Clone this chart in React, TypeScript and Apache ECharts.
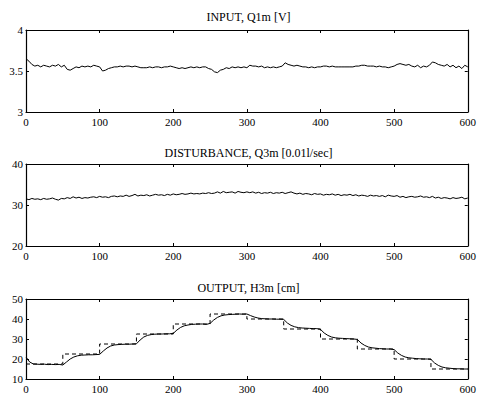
import React, { useEffect, useRef } from "react";
import * as echarts from "echarts";

const titles = ["INPUT, Q1m [V]", "DISTURBANCE, Q3m [0.01l/sec]", "OUTPUT, H3m [cm]"];
const xTicks = { min: 0, max: 600, interval: 100 };

// INPUT Q1m, sampled every 4 s from 0 to 600
const inputValues = [
  3.65, 3.62, 3.58, 3.56, 3.57, 3.55, 3.57, 3.56, 3.55, 3.57, 3.56, 3.58, 3.55, 3.57, 3.52, 3.51,
  3.53, 3.55, 3.54, 3.56, 3.55, 3.56, 3.55, 3.57, 3.56, 3.55, 3.5, 3.51, 3.53, 3.54, 3.55,
  3.55, 3.56, 3.55, 3.56, 3.56, 3.55, 3.56, 3.55, 3.54, 3.54, 3.54, 3.55, 3.54, 3.55, 3.55,
  3.54, 3.55, 3.55, 3.56, 3.55, 3.54, 3.53, 3.54, 3.53, 3.54, 3.55, 3.54, 3.55, 3.54, 3.55,
  3.55, 3.53, 3.52, 3.49, 3.48, 3.51, 3.52, 3.54, 3.53, 3.55, 3.54, 3.55, 3.54, 3.55, 3.54,
  3.57, 3.56, 3.56, 3.55, 3.56, 3.54, 3.55, 3.54, 3.55, 3.54, 3.55, 3.56, 3.6, 3.58, 3.57,
  3.56, 3.57, 3.56, 3.55, 3.55, 3.54, 3.55, 3.54, 3.55, 3.55, 3.56, 3.56, 3.55, 3.56, 3.55,
  3.55, 3.55, 3.55, 3.55, 3.55, 3.55, 3.56, 3.56, 3.57, 3.57, 3.56, 3.56, 3.56, 3.55, 3.56,
  3.55, 3.55, 3.54, 3.55, 3.56, 3.58, 3.59, 3.58, 3.57, 3.58, 3.56, 3.55, 3.57, 3.54, 3.56,
  3.55, 3.57, 3.61, 3.6, 3.58, 3.57, 3.56, 3.58, 3.55, 3.57, 3.54, 3.56, 3.53, 3.57, 3.55,
];

// DISTURBANCE Q3m, sampled every 4 s from 0 to 600
const disturbanceValues = [
  31.5, 31.3, 31.6, 31.4, 31.5, 31.3, 31.6, 31.4, 31.5, 31.7, 31.4, 31.2, 31.6, 31.5, 31.8, 31.6,
  32.0, 31.7, 31.9, 31.6, 31.8, 31.7, 31.9, 32.0, 31.8, 32.1, 31.9, 32.0, 31.8, 32.1, 32.2,
  32.0, 32.2, 32.1, 32.4, 32.1, 32.3, 32.6, 32.2, 32.4, 32.3, 32.5, 32.2, 32.4, 32.6, 32.4,
  32.5, 32.3, 32.6, 32.4, 32.7, 32.5, 32.6, 32.8, 32.6, 32.7, 32.9, 32.7, 32.8, 32.7, 32.9,
  32.8, 33.0, 32.8, 32.9, 33.2, 32.9, 33.3, 33.0, 33.1, 33.2, 32.9, 33.3, 33.1, 33.0, 33.2,
  33.0, 33.2, 32.9, 33.1, 32.8, 33.0, 32.9, 33.1, 32.8, 33.0, 32.9, 33.1, 32.8, 33.0, 33.2,
  32.9, 32.7, 32.9, 32.6, 32.8, 32.7, 32.5, 32.8, 32.6, 32.7, 32.4, 32.6, 32.5, 32.7, 32.4,
  32.6, 32.3, 32.5, 32.4, 32.6, 32.3, 32.5, 32.2, 32.4, 32.3, 32.1, 32.4, 32.2, 32.3, 32.1,
  32.3, 32.0, 32.4, 32.2, 32.1, 32.3, 31.9, 32.1, 31.8, 32.0, 32.1, 31.9, 32.0, 32.2, 31.9,
  32.0, 31.8, 32.1, 31.7, 31.9, 31.6, 31.8, 31.7, 31.5, 31.8, 31.6, 31.7, 31.9, 31.5, 31.7,
];

// OUTPUT H3m, sampled every 5 s from 0 to 600
const outputValues = [
  21, 18.5, 17.5, 17.4, 17.3, 17.4, 17.2, 17.3, 17.2, 17.3, 17.0,
  18.5, 20.0, 21.0, 21.6, 21.9, 22.0, 22.1, 22.1, 22.2, 22.3,
  24.0, 25.5, 26.5, 27.0, 27.2, 27.3, 27.4, 27.4, 27.5, 27.6,
  29.5, 31.0, 31.8, 32.2, 32.4, 32.5, 32.5, 32.6, 32.6, 32.8,
  34.5, 35.8, 36.6, 37.0, 37.3, 37.4, 37.5, 37.5, 37.3, 37.8,
  39.5, 40.8, 41.6, 42.0, 42.2, 42.3, 42.4, 42.5, 42.4, 42.5,
  41.7, 41.0, 40.5, 40.2, 40.1, 40.0, 40.0, 39.9, 39.9, 39.8,
  38.0, 36.8, 36.1, 35.7, 35.5, 35.4, 35.3, 35.2, 35.2, 34.8,
  33.0, 31.8, 31.0, 30.6, 30.4, 30.3, 30.2, 30.1, 30.0, 29.8,
  28.0, 26.8, 26.0, 25.6, 25.4, 25.2, 25.1, 25.0, 25.0, 24.7,
  23.0, 21.8, 21.0, 20.6, 20.4, 20.2, 20.1, 20.0, 20.0, 19.8,
  18.0, 16.8, 16.0, 15.6, 15.4, 15.2, 15.1, 15.1, 15.0, 15.0,
];

// Reference (setpoint) steps
const setpointTimes = [0, 50, 100, 150, 200, 250, 300, 350, 400, 450, 500, 550, 600];
const setpointValues = [17.5, 22.5, 27.5, 32.5, 37.5, 42.5, 40, 35, 30, 25, 20, 15, 15];

const yRanges = [
  { min: 3, max: 4, interval: 0.5 },
  { min: 20, max: 40, interval: 10 },
  { min: 10, max: 50, interval: 10 },
];

const toPairs = (vals: number[]) => vals.map((v, i) => [(i * 600) / (vals.length - 1), v]);

const FONT = "Liberation Serif";

export default function App() {
  const ref = useRef<HTMLDivElement>(null);
  useEffect(() => {
    if (!ref.current) return;
    const chart = echarts.init(ref.current, null, { renderer: "svg" });
    const grids = [
      { left: 26, right: 8, top: 30, height: 82 },
      { left: 26, right: 8, top: 164, height: 82 },
      { left: 26, right: 8, top: 299, height: 81 },
    ];
    const titleTops = [11, 147, 282];
    const axisLine = { show: true, onZero: false, lineStyle: { color: "#000", width: 1.2 } };
    const tick = { show: true, inside: true, length: 3, lineStyle: { color: "#000" } };
    const label = { color: "#000", fontFamily: FONT, fontSize: 11 };
    const xAxis: any[] = [];
    const yAxis: any[] = [];
    grids.forEach((_, i) => {
      xAxis.push({
        type: "value", gridIndex: i, ...xTicks, position: "bottom",
        axisLine, axisTick: tick, splitLine: { show: false },
        axisLabel: { ...label, margin: 4 },
      });
      xAxis.push({
        type: "value", gridIndex: i, ...xTicks, position: "top",
        axisLine, axisTick: tick, splitLine: { show: false }, axisLabel: { show: false },
      });
      yAxis.push({
        type: "value", gridIndex: i, ...yRanges[i], position: "left",
        axisLine, axisTick: tick, splitLine: { show: false },
        axisLabel: { ...label, margin: 3 },
      });
      yAxis.push({
        type: "value", gridIndex: i, ...yRanges[i], position: "right",
        axisLine, axisTick: tick, splitLine: { show: false }, axisLabel: { show: false },
      });
    });
    const line = (data: any, i: number, extra: any = {}) => ({
      type: "line", xAxisIndex: i * 2, yAxisIndex: i * 2, data, showSymbol: false, symbol: "none",
      lineStyle: { color: "#000", width: 1 }, silent: true, ...extra,
    });
    chart.setOption({
      animation: false,
      backgroundColor: "#fff",
      title: titles.map((t, i) => ({
        text: t, left: 248.5, top: titleTops[i], textAlign: "center", padding: 0,
        textStyle: { fontFamily: FONT, fontSize: 12, fontWeight: "normal", color: "#000" },
      })),
      grid: grids,
      xAxis,
      yAxis,
      series: [
        line(toPairs(inputValues), 0),
        line(toPairs(disturbanceValues), 1),
        line(setpointTimes.map((t, k) => [t, setpointValues[k]]), 2, {
          step: "end",
          lineStyle: { color: "#000", width: 1, type: [4, 3] },
        }),
        line(toPairs(outputValues), 2),
      ],
    });
    return () => chart.dispose();
  }, []);
  return (
    <div
      ref={ref}
      style={{ position: "absolute", left: 0, top: 0, width: 479, height: 394, background: "#fff" }}
    />
  );
}
